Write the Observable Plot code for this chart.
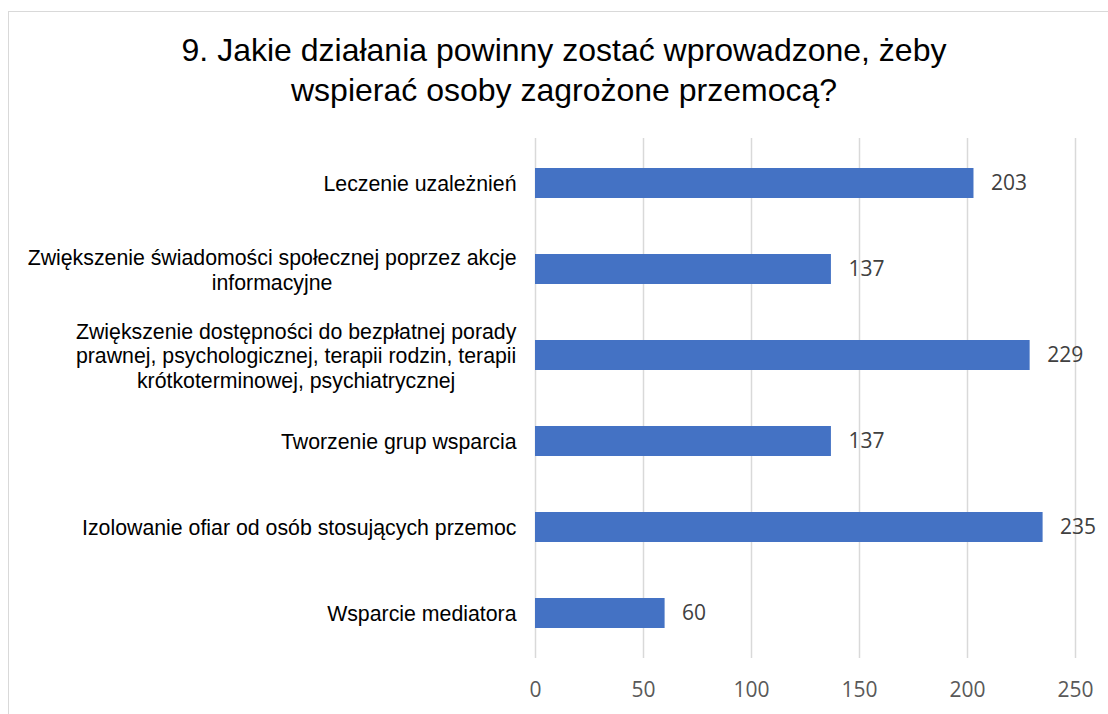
<!DOCTYPE html>
<html>
<head>
<meta charset="utf-8">
<script src="https://cdn.jsdelivr.net/npm/d3@7"></script>
<script src="https://cdn.jsdelivr.net/npm/@observablehq/plot@0.6"></script>
<style>
  html, body { margin: 0; padding: 0; background: #fff; overflow: hidden; }
  #wrap { position: relative; width: 1108px; height: 714px; overflow: hidden; }
  #frame { position: absolute; left: 8px; top: 11px; width: 1112px; height: 720px; border: 1px solid #d9d9d9; box-sizing: border-box; pointer-events: none; }
  #title { position: relative; height: 110px; box-sizing: border-box; padding-top: 30px; width: 1128px;
           text-align: center; font-family: "Liberation Sans", Arial, sans-serif; font-size: 32px; line-height: 40px; color: #000; }
  #chart { position: relative; }
</style>
</head>
<body>
<div id="wrap">
  <div id="frame"></div>
  <div id="title">9. Jakie działania powinny zostać wprowadzone, żeby<br>wspierać osoby zagrożone przemocą?</div>
  <div id="chart"></div>
</div>
<script>
const categories = [
  "Leczenie uzależnień",
  "Zwiększenie świadomości społecznej poprzez akcje\ninformacyjne",
  "Zwiększenie dostępności do bezpłatnej porady\nprawnej, psychologicznej, terapii rodzin, terapii\nkrótkoterminowej, psychiatrycznej",
  "Tworzenie grup wsparcia",
  "Izolowanie ofiar od osób stosujących przemoc",
  "Wsparcie mediatora"
];
const values = [203, 137, 229, 137, 235, 60];
const xTicks = [0, 50, 100, 150, 200, 250];

const data = categories.map((c, i) => ({category: c, value: values[i]}));

const plot = Plot.plot({
  width: 1108,
  height: 604,
  marginTop: 28,
  marginBottom: 56,
  marginLeft: 535,
  marginRight: 33,
  style: {background: "transparent", overflow: "visible"},
  x: {domain: [0, 250], ticks: xTicks, label: null},
  y: {domain: categories, paddingInner: 0.655, paddingOuter: 0.3275, label: null},
  marks: [
    Plot.gridX(xTicks, {stroke: "#d9d9d9", strokeOpacity: 1, strokeWidth: 1.5}),
    Plot.axisX({ticks: xTicks, tickSize: 0, tickPadding: 24, fontSize: 21, fill: "#595959",
      fontFamily: "'Open Sans', sans-serif", label: null}),
    Plot.axisY({tickSize: 0, tickPadding: 19, fontSize: 21.3, lineHeight: 1.17, fill: "#000",
      fontFamily: "'Liberation Sans', Arial, sans-serif", label: null, textOverflow: null, lineWidth: Infinity}),
    Plot.barX(data, {x: "value", y: "category", fill: "#4472C4"}),
    Plot.text(data, {x: "value", y: "category", text: d => String(d.value), textAnchor: "start", dx: 17,
      fontSize: 21, fill: "#404040", fontFamily: "'Open Sans', sans-serif"})
  ]
});
document.getElementById("chart").appendChild(plot);

// center-align lines of multi-line category labels within their right-aligned block
plot.querySelectorAll('g[aria-label="y-axis tick label"] text').forEach(t => {
  const spans = t.querySelectorAll("tspan");
  if (spans.length < 2) return;
  const w = t.getBBox().width;
  t.setAttribute("text-anchor", "middle");
  spans.forEach(s => s.setAttribute("x", -w / 2));
});
</script>
</body>
</html>
